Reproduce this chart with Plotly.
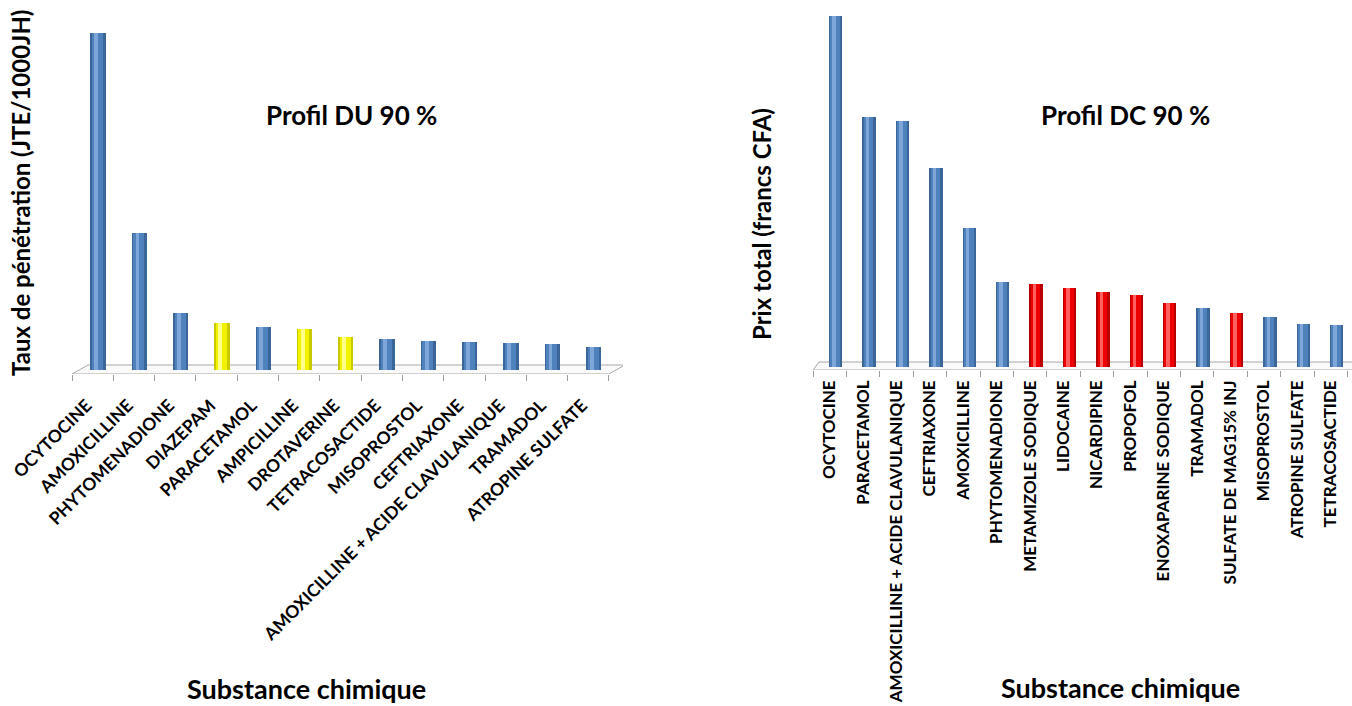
import numpy as np
import plotly.graph_objects as go

# ---- Profil DU 90 % : taux de pénétration (JTE/1000JH) ----
du_substances = [
    "OCYTOCINE", "AMOXICILLINE", "PHYTOMENADIONE", "DIAZEPAM", "PARACETAMOL",
    "AMPICILLINE", "DROTAVERINE", "TETRACOSACTIDE", "MISOPROSTOL", "CEFTRIAXONE",
    "AMOXICILLINE + ACIDE CLAVULANIQUE", "TRAMADOL", "ATROPINE SULFATE",
]
du_values = [33.7, 13.7, 5.7, 4.7, 4.3, 4.1, 3.3, 3.1, 2.9, 2.8, 2.7, 2.6, 2.3]
du_groups = ["b", "b", "b", "y", "b", "y", "y", "b", "b", "b", "b", "b", "b"]

# ---- Profil DC 90 % : prix total (francs CFA) ----
dc_substances = [
    "OCYTOCINE", "PARACETAMOL", "AMOXICILLINE + ACIDE CLAVULANIQUE", "CEFTRIAXONE",
    "AMOXICILLINE", "PHYTOMENADIONE", "METAMIZOLE SODIQUE", "LIDOCAINE",
    "NICARDIPINE", "PROPOFOL", "ENOXAPARINE SODIQUE", "TRAMADOL",
    "SULFATE DE MAG15% INJ", "MISOPROSTOL", "ATROPINE SULFATE", "TETRACOSACTIDE",
]
dc_values = [3510000, 2500000, 2460000, 1990000, 1390000, 850000, 830000, 790000,
             750000, 720000, 640000, 590000, 540000, 500000, 430000, 420000]
dc_groups = ["b", "b", "b", "b", "b", "b", "r", "r", "r", "r", "r", "b", "r", "b", "b", "b"]

# cylinder shading: (edge, body, highlight)
PALETTE = {
    "b": ("#3A6699", "#4F81BD", "#7FA6D8"),
    "y": ("#C9C900", "#F2F200", "#FFFF8A"),
    "r": ("#B80000", "#EE0000", "#FF6060"),
}

W, H = 1352, 706
FONT = "Lato"


def px_x(p):
    return p / W


def px_y(p):
    return 1 - p / H


fig = go.Figure()


def add_cylinders(xaxis, yaxis, names, values, groups, depth, width):
    x = np.arange(len(names)) + depth
    layers = [(0, 1.0, 0.0), (1, 0.72, -0.04), (2, 0.26, -0.12)]
    for idx, frac, shift in layers:
        colors = [PALETTE[g][idx] for g in groups]
        w = width * frac
        fig.add_trace(go.Bar(
            x=x, y=values, width=w, offset=-w / 2 + shift * width,
            marker=dict(color=colors, line=dict(width=0)),
            xaxis=xaxis, yaxis=yaxis, showlegend=False, hoverinfo="skip",
        ))


def floor(xref, yref, n, front, back, skew):
    path = (f"M {-0.5},{front} L {n - 0.5},{front} "
            f"L {n - 0.5 + skew},{back} L {-0.5 + skew},{back} Z")
    fig.add_shape(type="path", path=path, xref=xref, yref=yref,
                  line=dict(color="#A8A8A8", width=1), fillcolor="#FAFAFA",
                  layer="below")


# left panel geometry
L_unit = 41.3
L_x0, L_x1 = 72, 623
L_range = [-0.5, -0.5 + (L_x1 - L_x0) / L_unit]
floor("x", "y", len(du_substances), -0.4, 0.5, 16 / L_unit)
add_cylinders("x", "y", du_substances, du_values, du_groups, 0.13, 0.37)

# right panel geometry
R_unit = 33.4
R_x0 = 813
R_range = [-0.5, -0.5 + (W - R_x0) / R_unit]
floor("x2", "y2", len(dc_substances) + 1, -30000, 50000, 6 / R_unit)
add_cylinders("x2", "y2", dc_substances, dc_values, dc_groups, 0.18, 0.40)

tick_minor = dict(tickmode="linear", tick0=-0.5, dtick=1, ticks="outside",
                  ticklen=6, tickcolor="#9C9C9C", tickwidth=1, showgrid=False)

fig.update_layout(
    width=W, height=H,
    margin=dict(l=0, r=0, t=0, b=0, autoexpand=False),
    paper_bgcolor="white", plot_bgcolor="rgba(0,0,0,0)",
    barmode="overlay", bargap=0,
    font=dict(family=FONT, color="black"),
    xaxis=dict(
        domain=[px_x(L_x0), px_x(L_x1)], range=L_range, anchor="y",
        tickmode="array", tickvals=list(range(len(du_substances))),
        ticktext=du_substances, tickangle=-45, ticks="",
        ticklabelstandoff=17, ticklabelshift=-6,
        tickfont=dict(family=FONT, size=17.5, weight="bold"),
        showgrid=False, zeroline=False, showline=False, minor=tick_minor,
        automargin=False,
    ),
    yaxis=dict(
        domain=[px_y(374), px_y(20)], range=[-0.4, 35.0], anchor="x",
        showticklabels=False, ticks="", showgrid=False, zeroline=False,
        showline=False, automargin=False,
    ),
    xaxis2=dict(
        domain=[px_x(R_x0), 1.0], range=R_range, anchor="y2",
        tickmode="array", tickvals=list(range(len(dc_substances))),
        ticktext=dc_substances, tickangle=-90, ticks="",
        ticklabelstandoff=6,
        tickfont=dict(family=FONT, size=17, weight="bold"),
        showgrid=False, zeroline=False, showline=False, minor=tick_minor,
        automargin=False,
    ),
    yaxis2=dict(
        domain=[px_y(370), px_y(10)], range=[-30000, 3570000], anchor="x2",
        showticklabels=False, ticks="", showgrid=False, zeroline=False,
        showline=False, automargin=False,
    ),
)

titles = [
    ("Profil DU 90 %", 351, 115, 0, 26, "middle"),
    ("Profil DC 90 %", 1125, 115, 0, 26, "middle"),
    ("Substance chimique", 306, 688, 0, 27, "middle"),
    ("Substance chimique", 1120, 706, 0, 27, "bottom"),
    ("Taux de pénétration (JTE/1000JH)", 20, 193, -90, 24, "middle"),
    ("Prix total (francs CFA)", 761, 224, -90, 24, "middle"),
]
for text, x, y, ang, size, yanchor in titles:
    fig.add_annotation(
        text=text, x=px_x(x), y=px_y(y), xref="paper", yref="paper",
        xanchor="center", yanchor=yanchor, textangle=ang, showarrow=False,
        font=dict(family=FONT, size=size, weight="bold", color="black"),
    )

fig.write_html("out.html")
